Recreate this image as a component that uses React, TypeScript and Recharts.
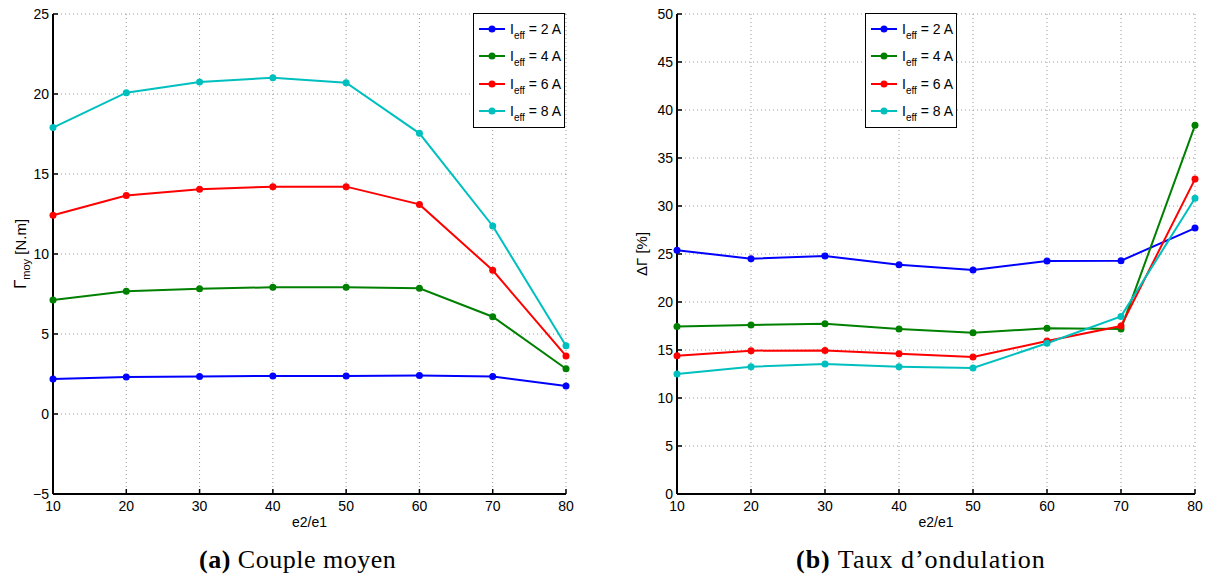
import { LineChart, Line, XAxis, YAxis, CartesianGrid } from 'recharts'

const e2e1 = [10, 20, 30, 40, 50, 60, 70, 80]

// couple moyen [N.m]
const couple2A = [2.19, 2.31, 2.35, 2.38, 2.38, 2.4, 2.35, 1.75]
const couple4A = [7.13, 7.67, 7.83, 7.92, 7.92, 7.86, 6.08, 2.83]
const couple6A = [12.42, 13.65, 14.04, 14.21, 14.21, 13.1, 8.98, 3.63]
const couple8A = [17.9, 20.08, 20.75, 21.02, 20.71, 17.54, 11.75, 4.27]

// taux d'ondulation [%]
const ond2A = [25.4, 24.51, 24.79, 23.89, 23.33, 24.27, 24.3, 27.7]
const ond4A = [17.45, 17.6, 17.74, 17.19, 16.8, 17.26, 17.2, 38.4]
const ond6A = [14.4, 14.93, 14.96, 14.62, 14.27, 15.94, 17.5, 32.8]
const ond8A = [12.5, 13.26, 13.54, 13.26, 13.13, 15.7, 18.5, 30.8]

const currents = ['2', '4', '6', '8']
const colors = ['#0000ff', '#008000', '#ff0000', '#00bfbf']

const xTicks = [10, 20, 30, 40, 50, 60, 70, 80]
const coupleTicks = [-5, 0, 5, 10, 15, 20, 25]
const ondTicks = [0, 5, 10, 15, 20, 25, 30, 35, 40, 45, 50]

const coupleData = e2e1.map((x, i) => ({
  x, s0: couple2A[i], s1: couple4A[i], s2: couple6A[i], s3: couple8A[i],
}))
const ondData = e2e1.map((x, i) => ({
  x, s0: ond2A[i], s1: ond4A[i], s2: ond6A[i], s3: ond8A[i],
}))

const sans = '"Liberation Sans", Arial, sans-serif'
const axisFont = { fontSize: 14, fill: '#000', fontFamily: sans }
const minus = (v: number) => String(v).replace('-', '\u2212')

function Legend({ left, top }: { left: number; top: number }) {
  return (
    <div style={{
      position: 'absolute', left, top, width: 90, height: 113,
      border: '1.5px solid #000', background: '#fff',
      fontFamily: sans, fontSize: 14,
    }}>
      {currents.map((c, i) => (
        <div key={c} style={{ position: 'absolute', left: 0, top: 6 + i * 27.3, height: 22, width: 90 }}>
          <svg width={34} height={22} style={{ position: 'absolute', left: 0, top: 0 }}>
            <line x1={5} y1={9} x2={31} y2={9} stroke={colors[i]} strokeWidth={2} />
            <circle cx={18} cy={9} r={3.5} fill={colors[i]} />
          </svg>
          <span style={{ position: 'absolute', left: 36, top: 0, whiteSpace: 'nowrap', lineHeight: '18px' }}>
            I<sub style={{ fontSize: 10, verticalAlign: -5 }}>eff</sub> = {c} A
          </span>
        </div>
      ))}
    </div>
  )
}

function Chart({ data, ticks, domain, width }: { data: any[]; ticks: number[]; domain: [number, number]; width: number }) {
  return (
    <LineChart width={width} height={540} data={data} margin={{ top: 14, right: 19, left: 0, bottom: 24 }}>
      <CartesianGrid stroke="#999" strokeDasharray="1 3" />
      <XAxis
        dataKey="x" type="number" domain={[10, 80]} ticks={xTicks}
        height={22} tick={axisFont} tickSize={-5} tickMargin={12}
        axisLine={{ stroke: '#000', strokeWidth: 2 }} tickLine={{ stroke: '#000', strokeWidth: 1.5 }}
        label={{ value: 'e2/e1', position: 'bottom', offset: 1, style: { ...axisFont } }}
      />
      <XAxis
        xAxisId="top" orientation="top" dataKey="x" type="number" domain={[10, 80]} ticks={xTicks}
        height={0} mirror tick={false} tickSize={5}
        axisLine={{ stroke: '#000', strokeWidth: 2 }} tickLine={{ stroke: '#000', strokeWidth: 1.5 }}
      />
      <YAxis
        type="number" domain={domain} ticks={ticks} width={57}
        tick={axisFont} tickSize={-5} tickMargin={9} tickFormatter={minus}
        axisLine={{ stroke: '#000', strokeWidth: 2 }} tickLine={{ stroke: '#000', strokeWidth: 1.5 }}
      />
      <YAxis
        yAxisId="r" orientation="right" type="number" domain={domain} ticks={ticks} width={0}
        mirror tick={false} tickSize={5}
        axisLine={{ stroke: '#000', strokeWidth: 2 }} tickLine={{ stroke: '#000', strokeWidth: 1.5 }}
      />
      {colors.map((c, i) => (
        <Line
          key={c} type="linear" dataKey={`s${i}`} stroke={c} strokeWidth={2}
          dot={{ r: 3.5, fill: c, stroke: c, strokeWidth: 0 }} isAnimationActive={false}
        />
      ))}
    </LineChart>
  )
}

export default function App() {
  const caption = {
    position: 'absolute' as const, top: 545, fontFamily: '"Liberation Serif", "Times New Roman", serif',
    fontSize: 26, letterSpacing: 0.5, whiteSpace: 'nowrap' as const,
  }
  const ylab = {
    position: 'absolute' as const, fontFamily: sans, fontSize: 15, whiteSpace: 'nowrap' as const,
    transform: 'translate(-50%, -50%) rotate(-90deg)',
  }
  return (
    <div style={{ position: 'absolute', left: 0, top: 0, width: 1214, height: 581, background: '#fff' }}>
      <div style={{ position: 'absolute', left: -4, top: 0 }}>
        <Chart data={coupleData} ticks={coupleTicks} domain={[-5, 25]} width={589} />
      </div>
      <div style={{ position: 'absolute', left: 620, top: 0 }}>
        <Chart data={ondData} ticks={ondTicks} domain={[0, 50]} width={594} />
      </div>
      <Legend left={473} top={13} />
      <Legend left={865} top={13} />
      <div style={{ ...ylab, left: 21, top: 254 }}>
        <span style={{ fontSize: 17 }}>Γ</span><sub style={{ fontSize: 11 }}>moy</sub> [N.m]
      </div>
      <div style={{ ...ylab, left: 641, top: 254 }}>ΔΓ [%]</div>
      <div style={{ ...caption, left: 199 }}><b>(a)</b> Couple moyen</div>
      <div style={{ ...caption, left: 796, letterSpacing: 1 }}><b>(b)</b> Taux d’ondulation</div>
    </div>
  )
}
